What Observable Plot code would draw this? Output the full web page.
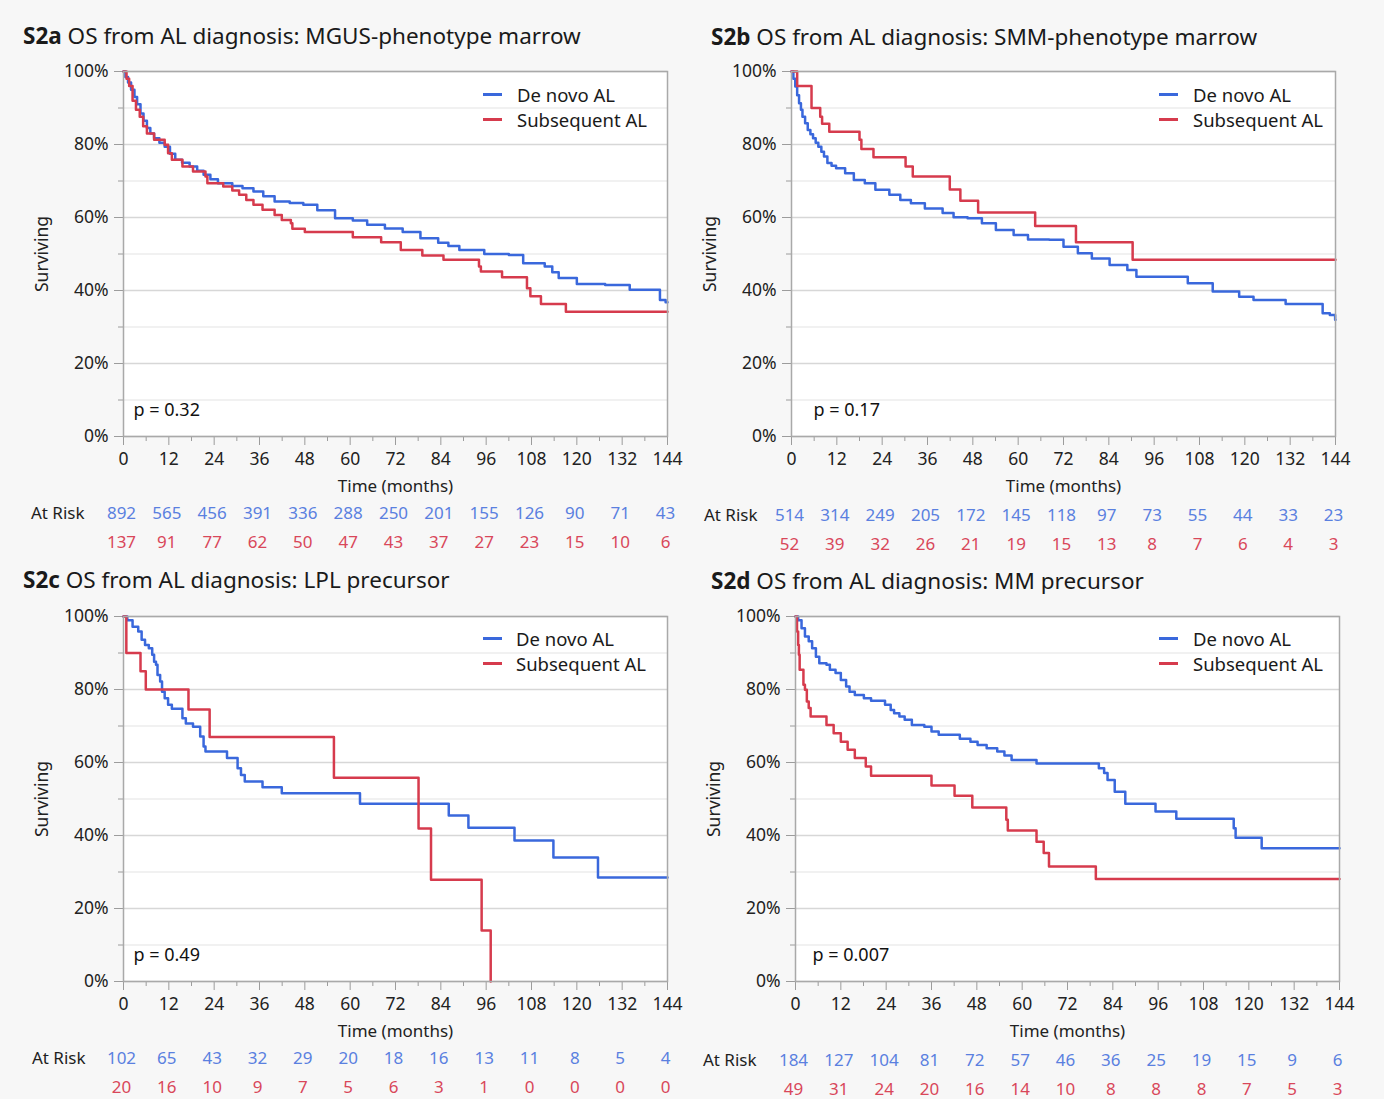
<!DOCTYPE html>
<html><head><meta charset="utf-8">
<script src="https://cdn.jsdelivr.net/npm/d3@7"></script>
<script src="https://cdn.jsdelivr.net/npm/@observablehq/plot@0.6"></script>
<style>
html,body{margin:0;padding:0;background:#ffffff;}
#page{position:relative;width:1384px;height:1099px;background:#f7f7f7;font-family:"Noto Sans",sans-serif;color:#1a1a1a;overflow:hidden}
.abs{position:absolute;white-space:nowrap}
.title{font-size:22.5px;line-height:26px}
.title b{font-weight:700}
.leg{font-size:18.5px;line-height:25px}
.sw{height:3px;width:19px}
</style></head><body><div id="page"></div>
<script>
// ---------- shared ----------
const months = [0,12,24,36,48,60,72,84,96,108,120,132,144];
const seriesNames = ["De novo AL","Subsequent AL"];
const lineColors = ["#3a68dc","#d63b4d"];
const riskColors = ["#5a80e0","#d9475a"];

// ---------- S2a ----------
const aCode = "S2a";
const aTitle = "OS from AL diagnosis: MGUS-phenotype marrow";
const aP = "p = 0.32";
const aDeNovo = [[0,100],[0.5,98.5],[1.2,97],[2,95],[2.9,93],[3.6,91],[4.5,88.5],[5.3,86.5],[6.2,84.5],[7.1,83],[8.1,81.7],[9.5,80.5],[10.9,79.4],[12.3,77.5],[13.7,75.8],[15.5,75],[17.5,74],[19.5,72.8],[21.2,71.7],[23,70.5],[25,69.4],[28.8,68.6],[31.5,68],[34.4,67.1],[37,65.8],[40,64.4],[44,64],[47.6,63.5],[51.3,62],[56,59.8],[60.7,59.2],[64.5,58],[69.2,57],[73.9,56],[78.6,54.3],[83.3,53.1],[86,52.2],[88.9,51.1],[95.5,50],[102,49.7],[105.8,47.5],[111.5,46.6],[113.5,45],[115.2,43.4],[120,41.8],[127.5,41.5],[134,40.2],[142,37.4],[143.5,36.8],[144,36.8]];
const aSub = [[0,100],[0.8,98],[1.5,96],[2.4,92],[3.3,89.5],[4.3,87.6],[5.2,85],[6.2,83],[8.1,81.3],[10.9,79.9],[11.8,77.6],[12.8,75.8],[15.6,74],[18.4,72.6],[21.7,71.2],[22.2,69.4],[26.4,68.5],[28.8,67.4],[30.6,66.2],[32.5,64.8],[34.4,63.5],[36.8,62.1],[40,60.7],[41.9,59.3],[44.3,58.4],[44.7,56.9],[48,56],[60.7,54.6],[68.2,53.2],[73.4,51.1],[79.1,49.6],[84.7,48.4],[94.1,46.6],[94.6,45.2],[100.2,43.6],[106.8,40.6],[107.7,38.4],[110.5,36.3],[117.1,34.2],[144,34.2]];
const aRiskDeNovo = [892,565,456,391,336,288,250,201,155,126,90,71,43];
const aRiskSub = [137,91,77,62,50,47,43,37,27,23,15,10,6];

// ---------- S2b ----------
const bCode = "S2b";
const bTitle = "OS from AL diagnosis: SMM-phenotype marrow";
const bP = "p = 0.17";
const bDeNovo = [[0,100],[0.5,98],[1.0,95.9],[1.5,93.5],[2.0,91.3],[2.5,89.5],[2.9,87.6],[3.6,85.8],[4.3,84],[5,82.8],[5.7,81.7],[6.4,80.5],[7.1,79.4],[7.9,78],[8.6,76.7],[9.5,74.9],[10.6,74.2],[11.8,73.5],[14.2,72.1],[16.5,70.3],[19.4,69.4],[22.2,67.6],[25.9,66.2],[28.8,64.8],[31.6,63.9],[35.3,62.5],[40,61.2],[42.9,60.1],[46.6,59.8],[50.4,58.4],[54.1,56.6],[58.8,55.2],[62.6,54],[68.2,53.9],[72,52],[75.8,50.2],[79.5,48.8],[84.2,47],[88.9,45.6],[91.3,43.8],[104.9,42],[111.5,39.7],[118.5,38.3],[122.3,37.4],[130.8,36.3],[140.6,33.8],[142.5,33.3],[143.9,32],[144,32]];
const bSub = [[0,100],[1.5,96],[5.3,90],[7.6,87.6],[8.1,85.7],[10,83.5],[18,81.3],[18.5,78.8],[21.7,76.5],[30.2,74],[32.1,71.2],[41.9,67.7],[44.7,64.6],[49.4,61.4],[64.5,57.7],[75.3,53.2],[90.3,48.4],[144,48.4]];
const bRiskDeNovo = [514,314,249,205,172,145,118,97,73,55,44,33,23];
const bRiskSub = [52,39,32,26,21,19,15,13,8,7,6,4,3];

// ---------- S2c ----------
const cCode = "S2c";
const cTitle = "OS from AL diagnosis: LPL precursor";
const cP = "p = 0.49";
const cDeNovo = [[0,100],[1.0,99],[2.4,97.2],[3.9,95.9],[4.8,93.6],[5.7,92.2],[6.7,91.3],[7.6,89.5],[8.1,87.6],[8.6,86.8],[9.0,84],[9.7,82.2],[10.2,79.4],[10.9,77.6],[11.8,75.8],[12.8,74.7],[15.6,72.1],[16.5,70.7],[18.4,69.8],[20.3,67.1],[21.2,64.4],[21.7,63],[27.4,61.2],[30.2,58.4],[31.1,56.6],[32.1,54.8],[36.8,53.2],[41.9,51.6],[62.6,48.7],[86.1,45.5],[91.3,42.1],[103.5,38.6],[113.8,34],[125.6,28.5],[144,28.5]];
const cSub = [[0,100],[0.75,90],[4.5,85],[5.9,80],[17.2,74.5],[22.8,67],[55.7,55.8],[78.1,41.9],[81.4,27.9],[94.8,14],[97.2,0]];
const cRiskDeNovo = [102,65,43,32,29,20,18,16,13,11,8,5,4];
const cRiskSub = [20,16,10,9,7,5,6,3,1,0,0,0,0];

// ---------- S2d ----------
const dCode = "S2d";
const dTitle = "OS from AL diagnosis: MM precursor";
const dP = "p = 0.007";
const dDeNovo = [[0,100],[0.7,99],[1.6,96.8],[2.5,94.5],[3.5,93.2],[4.4,91.3],[5.4,89],[6.3,87.2],[8.2,86.8],[9.1,85.4],[10.6,84.5],[12,82.6],[13.4,80.8],[14.3,79.4],[15.7,78.5],[18.1,77.6],[20,76.9],[23.7,75.8],[25.2,74.4],[26.1,73.5],[27.5,72.6],[28.9,71.7],[30.8,70.3],[34.1,69.8],[36,68.5],[37.9,67.6],[43.5,66.5],[46.3,65.7],[48.2,64.8],[50.6,63.9],[53.4,63],[55.3,61.9],[57.2,60.7],[63.8,59.7],[80.3,58.4],[81.7,57.1],[82.6,55.2],[84.5,52],[87.3,48.7],[95.3,46.6],[100.8,44.6],[116,42],[116.5,39.4],[123.4,36.5],[144,36.5]];
const dSub = [[0,100],[0.4,95.9],[0.7,92.2],[0.9,89.5],[1.1,85.4],[2.1,81.3],[2.5,79.9],[3.0,76.7],[3.5,74.9],[4.0,72.6],[8.2,70.3],[10.1,68],[12,65.7],[13.8,63.5],[15.7,61.2],[18.6,58.9],[20,56.4],[36,53.7],[42.1,50.9],[46.8,47.7],[55.8,44.3],[56.2,41.4],[63.8,38.3],[65.7,35.2],[67.1,31.5],[79.5,28.1],[144,28.1]];
const dRiskDeNovo = [184,127,104,81,72,57,46,36,25,19,15,9,6];
const dRiskSub = [49,31,24,20,16,14,10,8,8,8,7,5,3];

const yMajor = [0,20,40,60,80,100];
const yMinor = [10,30,50,70,90];
const xMinor = [6,18,30,42,54,66,78,90,102,114,126,138];
const FONT = "'Noto Sans', sans-serif";

const panels = [
  {code:aCode,title:aTitle,p:aP,deNovo:aDeNovo,sub:aSub,rD:aRiskDeNovo,rS:aRiskSub,left:0,top:60,titleX:23,titleY:23,pdx:10,riskDy:0,atDx:-39,legSw:483,legTx:517,legY:94},
  {code:bCode,title:bTitle,p:bP,deNovo:bDeNovo,sub:bSub,rD:bRiskDeNovo,rS:bRiskSub,left:668,top:60,titleX:711,titleY:24,pdx:22,riskDy:2,atDx:-34,legSw:1159,legTx:1193,legY:94},
  {code:cCode,title:cTitle,p:cP,deNovo:cDeNovo,sub:cSub,rD:cRiskDeNovo,rS:cRiskSub,left:0,top:605,titleX:23,titleY:567,pdx:10,riskDy:0,atDx:-38,legSw:483,legTx:516,legY:638},
  {code:dCode,title:dTitle,p:dP,deNovo:dDeNovo,sub:dSub,rD:dRiskDeNovo,rS:dRiskSub,left:672,top:605,titleX:711,titleY:568,pdx:17,riskDy:2,atDx:-39,legSw:1159,legTx:1193,legY:638}
];

const page = document.getElementById("page");
const baseStyle = {fontFamily: FONT, fontSize: "17.5px", color: "#1e1e1e", background: "transparent", overflow: "visible"};
const tickGray = "#9c9c9c";

function chart(p) {
  const data = [
    ...p.deNovo.map(([t, s]) => ({t, s, g: seriesNames[0]})),
    ...p.sub.map(([t, s]) => ({t, s, g: seriesNames[1]}))
  ];
  return Plot.plot({
    width: 690, height: 438,
    marginLeft: 123, marginRight: 23, marginTop: 11, marginBottom: 62,
    style: baseStyle,
    x: {domain: [0, 144]},
    y: {domain: [0, 100]},
    color: {domain: seriesNames, range: lineColors},
    marks: [
      Plot.frame({fill: "white", stroke: null}),
      Plot.ruleY(yMinor, {stroke: "#ececec", strokeWidth: 1.5}),
      Plot.ruleY(yMajor, {stroke: "#d7d7d7", strokeWidth: 1.5}),
      Plot.axisX({ticks: xMinor, tickSize: 5, tickFormat: () => "", stroke: tickGray, label: null}),
      Plot.axisX({ticks: months, tickSize: 9, tickPadding: 7, stroke: tickGray, fill: "#222", label: null}),
      Plot.axisY({ticks: yMinor, tickSize: 5, tickFormat: () => "", stroke: tickGray, label: null}),
      Plot.axisY({ticks: yMajor, tickSize: 9, tickPadding: 6, tickFormat: d => d + "%", stroke: tickGray, fill: "#222", label: null}),
      Plot.line(data, {x: "t", y: "s", z: "g", stroke: "g", curve: "step-after", strokeWidth: 2.5}),
      Plot.frame({stroke: "#a9a9a9", strokeWidth: 1.5}),
      Plot.text([p.p], {text: d => d, frameAnchor: "bottom-left", dx: p.pdx, dy: -26, textAnchor: "start", lineAnchor: "middle", fontSize: 18, fill: "#111"}),
      Plot.text(["Surviving"], {text: d => d, frameAnchor: "left", dx: -81, rotate: -90, textAnchor: "middle", lineAnchor: "middle", fontSize: 17.5, fill: "#222"}),
      Plot.text(["Time (months)"], {text: d => d, frameAnchor: "bottom", dy: 50, textAnchor: "middle", lineAnchor: "middle", fontSize: 17, fill: "#222"})
    ]
  });
}

function riskTable(p) {
  const rows = [];
  months.forEach((t, i) => {
    rows.push({t, g: seriesNames[0], n: p.rD[i]});
    rows.push({t, g: seriesNames[1], n: p.rS[i]});
  });
  return Plot.plot({
    width: 690, height: 60,
    marginLeft: 123, marginRight: 23, marginTop: 0, marginBottom: 0,
    style: baseStyle,
    x: {domain: [0, 144], axis: null},
    y: {type: "point", domain: seriesNames, range: [15, 44], padding: 0, axis: null},
    color: {domain: seriesNames, range: riskColors},
    marks: [
      Plot.text(rows, {x: "t", y: "g", text: d => String(d.n), fill: "g", dx: -2, fontSize: 17}),
      Plot.text([seriesNames[0]], {y: d => d, frameAnchor: "left", dx: p.atDx, textAnchor: "end", text: () => "At Risk", fill: "#1e1e1e", fontSize: 17})
    ]
  });
}

function place(el, left, top) {
  el.style.position = "absolute";
  el.style.left = left + "px";
  el.style.top = top + "px";
  page.appendChild(el);
  return el;
}

for (const p of panels) {
  const t = document.createElement("div");
  t.className = "abs title";
  t.innerHTML = `<b>${p.code}</b> ${p.title}`;
  place(t, p.titleX, p.titleY);

  place(chart(p), p.left, p.top);
  place(riskTable(p), p.left, p.top + 438 + p.riskDy);

  seriesNames.forEach((name, i) => {
    const sw = document.createElement("div");
    sw.className = "abs sw";
    sw.style.background = lineColors[i];
    place(sw, p.legSw, p.legY + i * 25 - 1.5);
    const tx = document.createElement("div");
    tx.className = "abs leg";
    tx.textContent = name;
    place(tx, p.legTx, p.legY + i * 25 - 12.5);
  });
}
</script></body></html>
